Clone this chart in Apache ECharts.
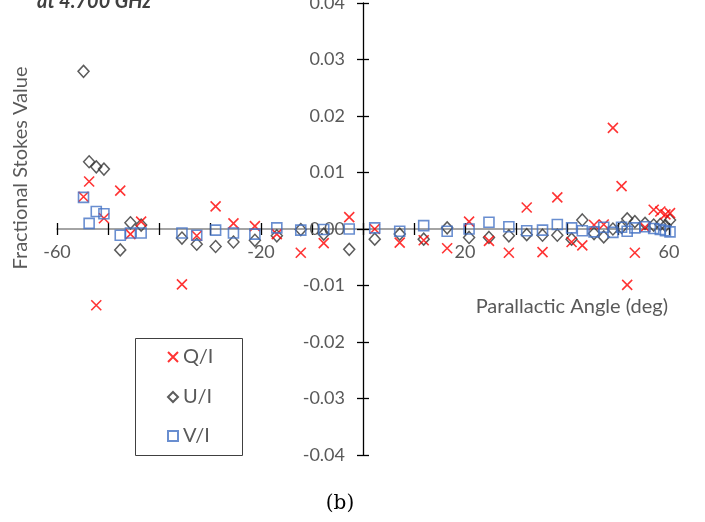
<!DOCTYPE html>
<html>
<head>
<meta charset="utf-8">
<script src="https://cdn.jsdelivr.net/npm/echarts@6/dist/echarts.min.js"></script>
<style>html,body{margin:0;padding:0;background:#fff;}#c{width:705px;height:522px;}</style>
</head>
<body>
<div id="c"></div>
<script>
// Parallactic angle (deg) for each observation
var angles = [-54.8,-53.7,-52.3,-50.8,-47.6,-45.6,-43.5,-35.5,-32.6,-28.9,-25.4,-21.2,-16.9,-12.2,-7.7,-2.7,
  2.3,7.2,11.9,16.5,20.8,24.7,28.6,32.1,35.2,38.1,40.9,43.0,45.3,47.2,49.0,50.7,51.8,53.3,55.3,57.0,58.3,59.3,60.2];
// Q/I
var qValues = [0.0057,0.0084,-0.0135,0.0019,0.0068,-0.0009,0.0013,-0.0098,-0.0012,0.0040,0.0010,0.0005,-0.0009,-0.0042,-0.0025,0.0021,
  0.0000,-0.0024,-0.0020,-0.0034,0.0013,-0.0021,-0.0042,0.0038,-0.0041,0.0056,-0.0023,-0.0029,0.0007,0.0008,0.0179,0.0076,-0.0099,-0.0042,0.0003,0.0034,0.0031,0.0026,0.0028];
// U/I
var uValues = [0.0279,0.0119,0.0110,0.0106,-0.0037,0.0011,0.0007,-0.0016,-0.0027,-0.0031,-0.0023,-0.0020,-0.0012,-0.0001,-0.0009,-0.0036,
  -0.0018,-0.0009,-0.0018,0.0002,-0.0015,-0.0015,-0.0012,-0.0010,-0.0011,-0.0011,-0.0018,0.0016,-0.0008,-0.0014,0.0000,0.0003,0.0018,0.0013,0.0010,0.0007,0.0008,0.0006,0.0016];
// V/I
var vValues = [0.0056,0.0010,0.0031,0.0027,-0.0011,-0.0007,-0.0007,-0.0007,-0.0011,-0.0002,-0.0007,-0.0009,0.0002,-0.0002,-0.0001,0.0000,
  0.0002,-0.0004,0.0006,-0.0004,0.0000,0.0012,0.0004,-0.0003,-0.0002,0.0008,0.0002,-0.0003,-0.0005,0.0003,-0.0006,0.0003,-0.0004,0.0002,0.0004,0.0001,-0.0001,-0.0003,-0.0005];
var seriesNames = ['Q/I','U/I','V/I'];
var xLabels = ['-60','-20','20','60'];
var yTickLabels = ['-0.04','-0.03','-0.02','-0.01','0.00','0.01','0.02','0.03','0.04'];

function pairs(vals){ return angles.map(function(a,i){ return [a, vals[i]]; }); }

var FONT = 'Lato';
var GRAY = '#595959';
var chart = echarts.init(document.getElementById('c'), null, {renderer:'canvas'});

var GRID = {left:57, right:36, top:3, bottom:67, containLabel:false, outerBoundsMode:'none'};
var xCommon = {type:'value', min:-60, max:60, interval:10, splitLine:{show:false}, position:'bottom'};
var yCommon = {type:'value', min:-0.04, max:0.04, interval:0.01, splitLine:{show:false}, position:'left'};

function buildOption(xOff, yOff){
  return {
    animation:false,
    backgroundColor:'#ffffff',
    grid:GRID,
    xAxis:[
      Object.assign({}, xCommon, {
        offset:xOff,
        axisLine:{onZero:false, lineStyle:{color:'#868686', width:1.5}},
        axisTick:{show:true, length:6, lineStyle:{color:'#000', width:1.3}},
        axisLabel:{margin:14, color:GRAY, fontFamily:FONT, fontSize:18,
          formatter:function(v){ var s=String(Math.round(v)); return xLabels.indexOf(s)>=0 ? s : ''; }}
      }),
      Object.assign({}, xCommon, {
        offset:xOff,
        axisLine:{onZero:false, show:false},
        axisTick:{show:true, inside:true, length:6, lineStyle:{color:'#000', width:1.3}},
        axisLabel:{show:false}
      })
    ],
    yAxis:[
      Object.assign({}, yCommon, {
        offset:yOff,
        axisLine:{onZero:false, lineStyle:{color:'#000', width:1.3}},
        axisTick:{show:true, length:6, lineStyle:{color:'#000', width:1.3}},
        axisLabel:{margin:18, color:GRAY, fontFamily:FONT, fontSize:18,
          formatter:function(v){ var s=v.toFixed(2); if(s==='-0.00') s='0.00'; return yTickLabels.indexOf(s)>=0 ? s : ''; }}
      }),
      Object.assign({}, yCommon, {
        offset:yOff,
        axisLine:{onZero:false, show:false},
        axisTick:{show:true, inside:true, length:6, lineStyle:{color:'#000', width:1.3}},
        axisLabel:{show:false}
      })
    ],
    legend:[
      {data:[seriesNames[0]], orient:'vertical', left:167, top:347, padding:0, itemWidth:10, itemHeight:10,
        textStyle:{color:GRAY, fontFamily:FONT, fontSize:20, lineHeight:20}},
      {data:[seriesNames[1]], orient:'vertical', left:167, top:387, padding:0, itemWidth:10, itemHeight:10,
        textStyle:{color:GRAY, fontFamily:FONT, fontSize:20, lineHeight:20}},
      {data:[seriesNames[2]], orient:'vertical', left:167, top:426, padding:0, itemWidth:10, itemHeight:10,
        textStyle:{color:GRAY, fontFamily:FONT, fontSize:20, lineHeight:20}}
    ],
    series:[
      {name:seriesNames[0], type:'scatter', xAxisIndex:0, yAxisIndex:0, clip:false,
        symbol:'path://M0,0L10,10M10,0L0,10', symbolSize:10,
        itemStyle:{color:'rgba(0,0,0,0)', borderColor:'#FF0000', borderWidth:1.6},
        data:pairs(qValues), z:3},
      {name:seriesNames[1], type:'scatter', xAxisIndex:0, yAxisIndex:0, clip:false,
        symbol:'diamond', symbolSize:[11,12],
        itemStyle:{color:'rgba(0,0,0,0)', borderColor:'#333333', borderWidth:1.5},
        data:pairs(uValues), z:2},
      {name:seriesNames[2], type:'scatter', xAxisIndex:0, yAxisIndex:0, clip:false,
        symbol:'rect', symbolSize:10,
        itemStyle:{color:'rgba(0,0,0,0)', borderColor:'#4472C4', borderWidth:1.6},
        data:pairs(vValues), z:4}
    ],
    graphic:[
      {type:'rect', shape:{x:135.5, y:338.5, width:107, height:117}, style:{fill:'none', stroke:'#404040', lineWidth:1}, z:0},
      {type:'text', x:21, y:168, rotation:Math.PI/2,
        style:{text:'Fractional Stokes Value', fill:GRAY, font:'20px '+FONT, textAlign:'center', textVerticalAlign:'middle'}},
      {type:'text', x:668, y:307,
        style:{text:'Parallactic Angle (deg)', fill:GRAY, font:'20px '+FONT, textAlign:'right', textVerticalAlign:'middle'}},
      {type:'text', x:37, y:12,
        style:{text:'at 4.700 GHz', fill:'#404040', font:'italic bold 20px '+FONT, textAlign:'left', textVerticalAlign:'bottom'}},
      {type:'text', x:340, y:504,
        style:{text:'(b)', fill:'#000', font:'20px "DejaVu Serif"', textAlign:'center', textVerticalAlign:'middle'}}
    ]
  };
}
chart.setOption(buildOption(0, 0));
// Move axes so they cross at the data origin (0, 0), using the library's own scales
var origin = chart.convertToPixel({gridIndex:0}, [0, 0]);
var bottomLeft = chart.convertToPixel({gridIndex:0}, [-60, -0.04]);
var yOffset = -(origin[0] - bottomLeft[0]);
var xOffset = -(bottomLeft[1] - origin[1]);
chart.setOption(buildOption(xOffset, yOffset));
</script>
</body>
</html>
